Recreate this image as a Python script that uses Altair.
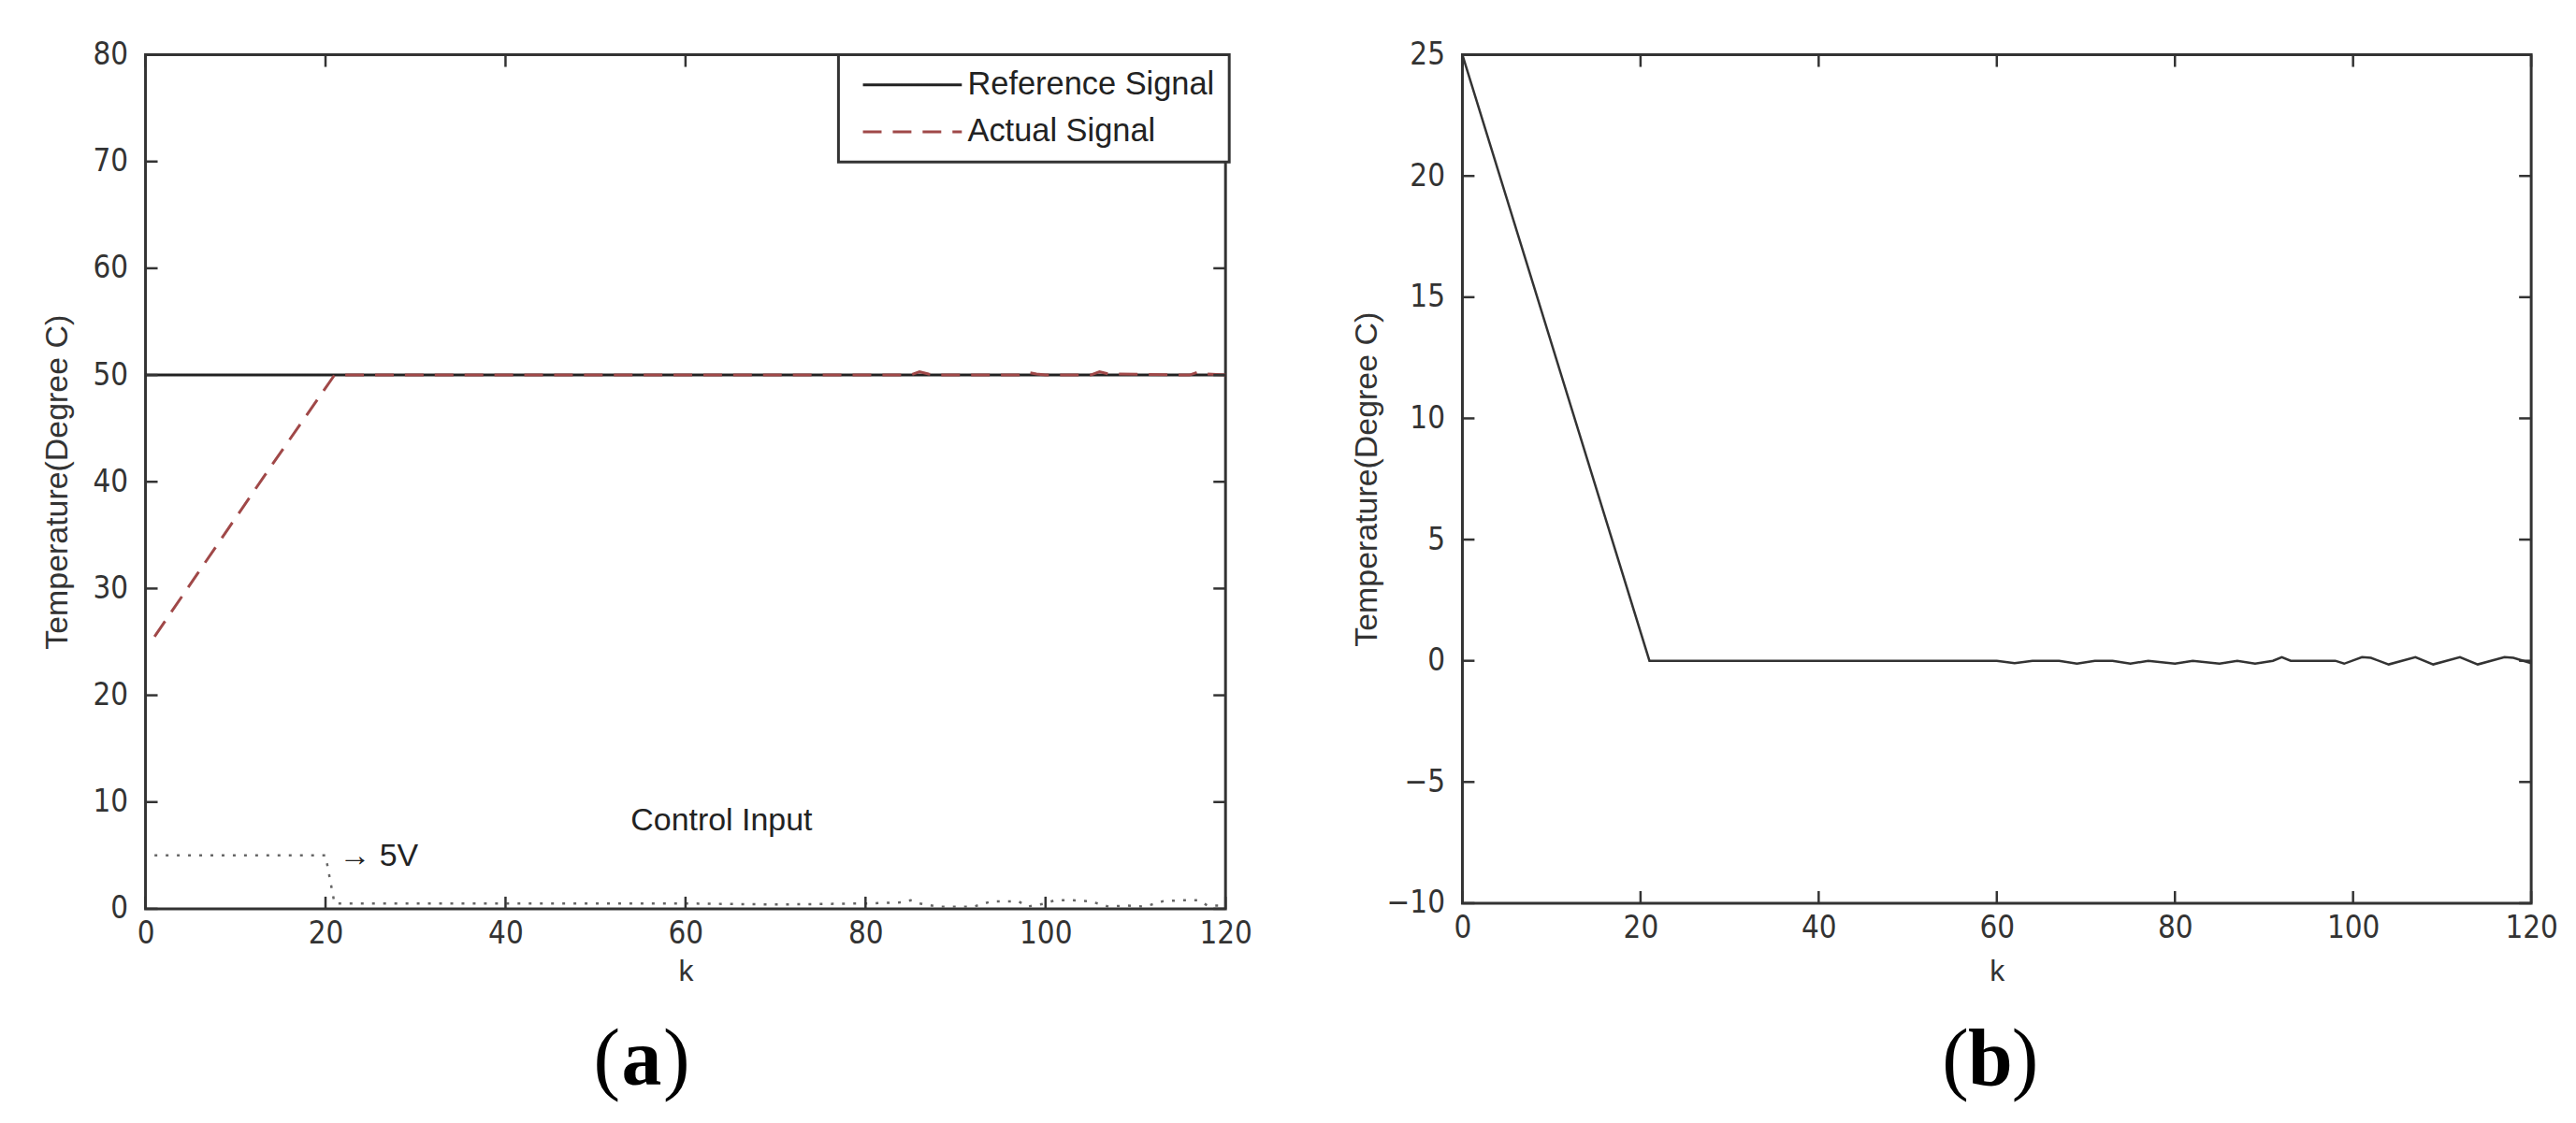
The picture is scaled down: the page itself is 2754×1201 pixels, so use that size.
import altair as alt
import pandas as pd

# ---------------- data ----------------
K_TICKS = [0, 20, 40, 60, 80, 100, 120]
A_TICKS = [0, 10, 20, 30, 40, 50, 60, 70, 80]
B_TICKS = [-10, -5, 0, 5, 10, 15, 20, 25]

SERIES = ["Reference Signal", "Actual Signal"]

REF_K = [0, 120]
REF_V = [50, 50]

ACT_K = [1, 13, 21, 60, 85, 86, 87, 88, 97, 98, 99, 100, 105, 106, 107, 116, 117, 118, 120]
ACT_V = [25.5, 40.3, 50, 50, 50, 50.3, 50.1, 50, 50, 50.25, 50.1, 50, 50, 50.3, 50.1, 50, 50.3, 50.1, 50]

CTRL_K = [1, 20, 21, 40, 60, 70, 80, 84, 85, 86, 88, 90, 92, 94, 96, 97, 98, 100, 101,
          103, 105, 107, 109, 111, 113, 115, 117, 118, 120]
CTRL_V = [5, 5, 0.5, 0.5, 0.5, 0.4, 0.5, 0.6, 0.8, 0.5, 0.2, 0.2, 0.2, 0.7, 0.7, 0.7, 0.2, 0.5, 0.8,
          0.8, 0.7, 0.2, 0.3, 0.2, 0.7, 0.8, 0.8, 0.3, 0.3]

ERR_K = [0, 21, 60, 62, 64, 67, 69, 71, 73, 75, 77, 80, 82, 85, 87, 89, 91, 92, 93,
         98, 99, 101, 102, 104, 107, 109, 112, 114, 117, 118, 120]
ERR_V = [25, 0, 0, -0.1, 0, 0, -0.12, 0, 0, -0.12, 0, -0.12, 0, -0.12, 0, -0.12, 0, 0.15, 0,
         0, -0.12, 0.15, 0.12, -0.15, 0.15, -0.15, 0.15, -0.15, 0.15, 0.12, -0.1]

NOTE_TEXT = ["Control Input", "\u2192 5V"]
NOTE_K = [64, 21.5]
NOTE_V = [8.2, 4.9]

PANEL_LABELS = ["a", "b"]

# ---------------- style ----------------
W_A, H_A = 1158, 916
W_B, H_B = 1146, 910
FONT = "Liberation Sans, Arial, Helvetica, sans-serif"
TICKFONT = "Liberation Sans Narrow, Arial Narrow, DejaVu Sans Condensed, Liberation Sans, Arial, sans-serif"
SERIF = "Palatino Linotype, Book Antiqua, Liberation Serif, Times New Roman, serif"
TXT = "#333333"
FRAME = "#333333"
TICK = 13
TOP = 53


def axis_common(**kw):
    return alt.Axis(grid=False, ticks=False, tickSize=0, domain=False,
                    labelFont=TICKFONT, labelFontSize=33, labelColor=TXT,
                    titleFont=FONT, titleColor=TXT, titleFontWeight="normal", **kw)


def xenc(h):
    return alt.X("k:Q", scale=alt.Scale(domain=[0, 120], nice=False, zero=False),
                 axis=axis_common(values=K_TICKS, title="k", labelFlush=False, labelPadding=11,
                                  format="d", titleFontSize=32, titleY=1046 - TOP - h,
                                  titleBaseline="alphabetic"))


def yenc(domain, ticks, h, title_x):
    return alt.Y("v:Q", scale=alt.Scale(domain=domain, nice=False, zero=False),
                 axis=axis_common(values=ticks, title="Temperature(Degree C)", labelPadding=19,
                                  format="d", titleFontSize=34, titleX=title_x, titleY=h / 2,
                                  titleBaseline="middle", titleAlign="center"))


def tick_layers(xe, ye, xticks, yticks, w, h):
    ydf = pd.DataFrame({"v": yticks})
    xdf = pd.DataFrame({"k": xticks})
    base = dict(color=FRAME, strokeWidth=2.5)
    return [
        alt.Chart(ydf).mark_rule(**base).encode(y=ye, x=alt.value(0), x2=alt.value(TICK)),
        alt.Chart(ydf).mark_rule(**base).encode(y=ye, x=alt.value(w - TICK), x2=alt.value(w)),
        alt.Chart(xdf).mark_rule(**base).encode(x=xe, y=alt.value(h - TICK), y2=alt.value(h)),
        alt.Chart(xdf).mark_rule(**base).encode(x=xe, y=alt.value(0), y2=alt.value(TICK)),
    ]


def panel_label(letter, cx, base_y):
    df = pd.DataFrame({"t": [letter], "l": ["("], "r": [")"]})
    return [
        alt.Chart(df).mark_text(font=SERIF, fontSize=86, fontWeight="bold", baseline="alphabetic",
                                align="center", color="black").encode(
            x=alt.value(cx), y=alt.value(base_y), text="t:N"),
        alt.Chart(df).mark_text(font=SERIF, fontSize=86, baseline="alphabetic", align="right",
                                color="black").encode(x=alt.value(cx - 23), y=alt.value(base_y), text="l:N"),
        alt.Chart(df).mark_text(font=SERIF, fontSize=86, baseline="alphabetic", align="left",
                                color="black").encode(x=alt.value(cx + 23), y=alt.value(base_y), text="r:N"),
    ]


# ---------------- panel (a) ----------------
xa = xenc(H_A)
ya = yenc([0, 80], A_TICKS, H_A, -94)

legend = alt.Legend(title=None, orient="none", legendX=743, legendY=0, direction="vertical",
                    symbolType="M-5,0H5", symbolSize=450, symbolStrokeWidth=3,
                    symbolOffset=47, labelOffset=42, labelFont=FONT, labelFontSize=34.5,
                    labelColor="#222222", labelLimit=500, padding=15, rowPadding=15.5,
                    strokeColor=FRAME, fillColor="white")
color = alt.Color("series:N", scale=alt.Scale(domain=SERIES, range=["#222222", "#a04848"]),
                  legend=legend)
dash = alt.StrokeDash("series:N", scale=alt.Scale(domain=SERIES, range=[[1, 0], [20, 12]]),
                      legend=legend)

ref_df = pd.DataFrame({"k": REF_K, "v": REF_V, "series": SERIES[0]})
act_df = pd.DataFrame({"k": ACT_K, "v": ACT_V, "series": SERIES[1]})
ctrl_df = pd.DataFrame({"k": CTRL_K, "v": CTRL_V})
note_df = pd.DataFrame({"k": NOTE_K, "v": NOTE_V, "t": NOTE_TEXT})

ref = alt.Chart(ref_df).mark_line(strokeWidth=3).encode(x=xa, y=ya, color=color, strokeDash=dash)
act = alt.Chart(act_df).mark_line(strokeWidth=3).encode(x=xa, y=ya, color=color, strokeDash=dash)
ctrl = alt.Chart(ctrl_df).mark_line(color="#666666", strokeWidth=2.5, strokeDash=[3, 9]).encode(x=xa, y=ya)
note1 = alt.Chart(note_df).transform_filter(alt.datum.t == NOTE_TEXT[0]).mark_text(
    font=FONT, fontSize=34, color="#222222", align="center", baseline="middle").encode(x=xa, y=ya, text="t:N")
note2 = alt.Chart(note_df).transform_filter(alt.datum.t == NOTE_TEXT[1]).mark_text(
    font=FONT, fontSize=34, color="#222222", align="left", baseline="middle").encode(x=xa, y=ya, text="t:N")

panel_a = alt.layer(
    ctrl, ref, act, note1, note2,
    *tick_layers(xa, ya, K_TICKS, A_TICKS, W_A, H_A),
    *panel_label(PANEL_LABELS[0], 532, 1158 - TOP),
).properties(width=W_A, height=H_A)

# ---------------- panel (b) ----------------
xb = xenc(H_B)
yb = yenc([-10, 25], B_TICKS, H_B, -102)
err_df = pd.DataFrame({"k": ERR_K, "v": ERR_V})
err = alt.Chart(err_df).mark_line(color="#333333", strokeWidth=2.5).encode(x=xb, y=yb)

panel_b = alt.layer(
    err,
    *tick_layers(xb, yb, K_TICKS, B_TICKS, W_B, H_B),
    *panel_label(PANEL_LABELS[1], 566, 1158 - TOP),
).properties(width=W_B, height=H_B)

chart = alt.hconcat(panel_a, panel_b, spacing=254, bounds="flush").resolve_scale(
    color="independent", strokeDash="independent"
).resolve_legend(
    color="independent", strokeDash="independent"
).properties(
    padding={"left": 35, "top": 31, "right": 10, "bottom": 10},
    background="white",
).configure_view(
    stroke=FRAME, strokeWidth=3
).configure_legend(
    strokeWidth=3
)

chart.save("out.html", embed_options={"renderer": "svg", "actions": False})
